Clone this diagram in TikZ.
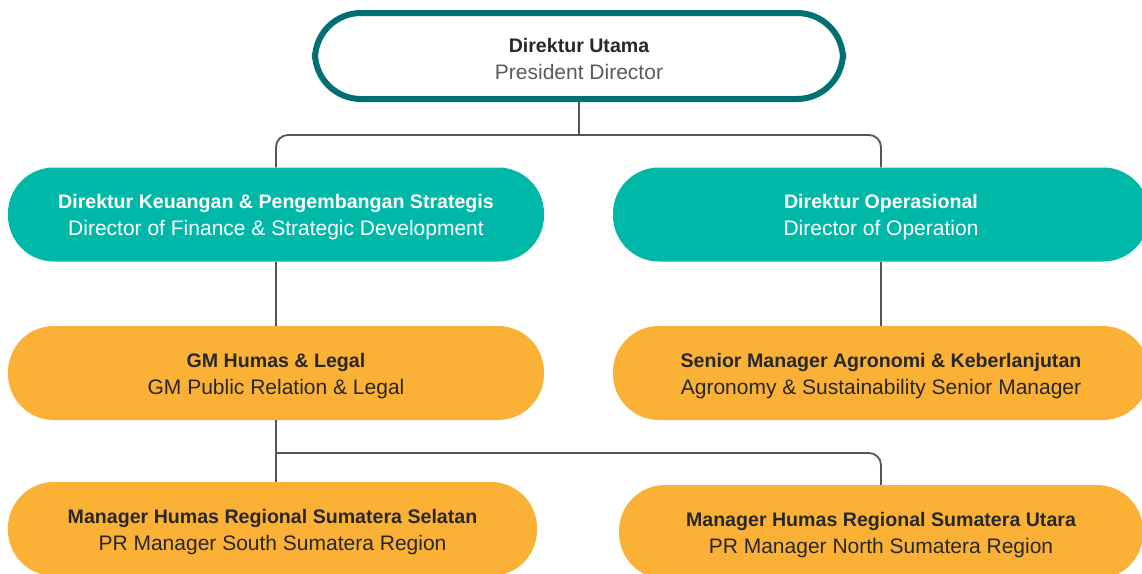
\documentclass[tikz,border=0pt]{standalone}
\usepackage{fontspec}
\setmainfont{Liberation Sans}
\usetikzlibrary{positioning}

\definecolor{tealdark}{RGB}{0,112,112}
\definecolor{tealfill}{RGB}{0,184,168}
\definecolor{orangefill}{RGB}{251,176,54}
\definecolor{linegray}{RGB}{85,85,85}
\definecolor{textdark}{RGB}{40,40,40}
\definecolor{textgray}{RGB}{90,90,90}

\newcommand{\titleline}[1]{{\fontsize{19.6}{27}\selectfont\bfseries\rule{0pt}{19.5pt}#1}}

\begin{document}
\begin{tikzpicture}[x=1pt,y=-1pt]
    \tikzset{base/.style = {rectangle, rounded corners=46pt, align=center,
                           minimum width=536pt, minimum height=94pt,
                           font=\fontsize{21}{27}\selectfont}}
    \tikzset{lead/.style = {base, draw=tealdark, line width=6pt, fill=white,
                           minimum width=528pt, minimum height=86pt, text=textgray}}
    \tikzset{director/.style = {base, fill=tealfill, text=white}}
    \tikzset{manager/.style = {base, fill=orangefill, text=textdark}}
    \tikzset{link/.style = {draw=linegray, line width=1.8pt, rounded corners=12pt}}

    \useasboundingbox (0,0) rectangle (1142,573);
    \clip (0,0) rectangle (1142,573);

    \node (pd) [lead] at (579,56) {\titleline{\color{textdark}Direktur Utama}\\President Director};
    \node (fin) [director] at (276,214.5) {\titleline{Direktur Keuangan \& Pengembangan Strategis}\\Director of Finance \& Strategic Development};
    \node (ops) [director] at (881,214.5) {\titleline{Direktur Operasional}\\Director of Operation};
    \node (gm) [manager] at (276,373) {\titleline{GM Humas \& Legal}\\GM Public Relation \& Legal};
    \node (agro) [manager] at (881,373) {\titleline{Senior Manager Agronomi \& Keberlanjutan}\\Agronomy \& Sustainability Senior Manager};
    \node (south) [manager, minimum width=529pt] at (272.5,529) {\titleline{Manager Humas Regional Sumatera Selatan}\\PR Manager South Sumatera Region};
    \node (north) [manager, minimum width=524pt] at (881,532) {\titleline{Manager Humas Regional Sumatera Utara}\\PR Manager North Sumatera Region};

    \coordinate (j1) at (579,135);
    \coordinate (j2) at (276,453);

    \draw[link] (pd.south) -- (j1);
    \draw[link] (j1) -| (fin.north);
    \draw[link] (j1) -| (ops.north);
    \draw[link] (fin.south) -- (gm.north);
    \draw[link] (ops.south) -- (agro.north);
    \draw[link] (gm.south) -- (gm.south |- south.north);
    \draw[link] (j2) -| (north.north);

\end{tikzpicture}
\end{document}
